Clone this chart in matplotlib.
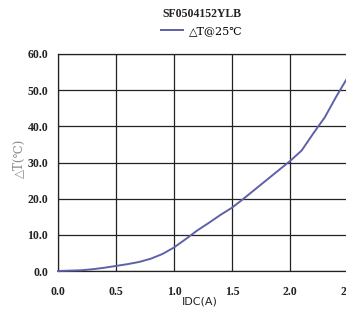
import matplotlib
matplotlib.use("Agg")
import matplotlib.pyplot as plt
from matplotlib.lines import Line2D

current = [0.0, 0.1, 0.2, 0.3, 0.4, 0.5, 0.6, 0.7, 0.8, 0.9, 1.0, 1.1, 1.2, 1.3,
           1.4, 1.5, 1.6, 1.7, 1.8, 1.9, 2.0, 2.1, 2.2, 2.3, 2.4, 2.5]
delta_t = [0.0, 0.1, 0.2, 0.5, 0.9, 1.4, 1.9, 2.5, 3.4, 4.7, 6.5, 8.8, 11.2, 13.3,
           15.5, 17.5, 20.0, 22.6, 25.2, 27.8, 30.4, 33.3, 38.0, 42.5, 48.3, 53.7]
x_ticks = [0.0, 0.5, 1.0, 1.5, 2.0, 2.5]
x_labels = ["0.0", "0.5", "1.0", "1.5", "2.0", "2.5"]
y_ticks = [0, 10, 20, 30, 40, 50, 60]
y_labels = ["0.0", "10.0", "20.0", "30.0", "40.0", "50.0", "60.0"]
title = "SF0504152YLB"
series_name = "△T@25℃"
x_title = "IDC(A)"
y_title = "△T(℃)"

W, H = 346, 309
fig = plt.figure(figsize=(W / 100, H / 100), dpi=100)
ax = fig.add_axes([58 / W, 1 - 271 / H, 290 / W, (271 - 54) / H])

line_color = "#5f61a8"
ax.plot(current, delta_t, color=line_color, lw=1.4, clip_on=False, zorder=3)
ax.set_xlim(0, 2.5)
ax.set_ylim(0, 60)
ax.set_xticks(x_ticks)
ax.set_xticklabels(x_labels)
ax.set_yticks(y_ticks)
ax.set_yticklabels(y_labels)
ax.grid(True, color="#222222", lw=0.9)
for s in ax.spines.values():
    s.set_color("#222222")
    s.set_linewidth(0.9)
ax.tick_params(axis="x", length=0, pad=11, labelsize=8.5)
ax.tick_params(axis="y", length=0, pad=7, labelsize=8.5)
for lab in ax.get_xticklabels() + ax.get_yticklabels():
    lab.set_fontfamily("Liberation Serif")
    lab.set_fontweight("bold")
    lab.set_color("#222222")

fig.text(200 / W, 1 - 302 / H, x_title, ha="center", va="center", fontsize=8,
         family="Liberation Sans Narrow", color="#222222")
fig.text(19 / W, 1 - 158 / H, y_title, ha="center", va="center", rotation=90,
         fontsize=8.5, family=["DejaVu Serif", "Noto Sans CJK SC"], color="#888888")

fig.text(202 / W, 1 - 14 / H, title, ha="center", va="center", fontsize=8.5,
         family="Liberation Serif", fontweight="bold", color="#222222")
fig.legend(handles=[Line2D([], [], color=line_color, lw=1.4)], labels=[series_name],
           loc="center", bbox_to_anchor=(202 / W, 1 - 31 / H), frameon=False,
           prop={"family": ["DejaVu Serif", "Noto Sans CJK SC"], "size": 8},
           handlelength=2.0, handletextpad=0.5)

fig.savefig("out.png", dpi=100)
